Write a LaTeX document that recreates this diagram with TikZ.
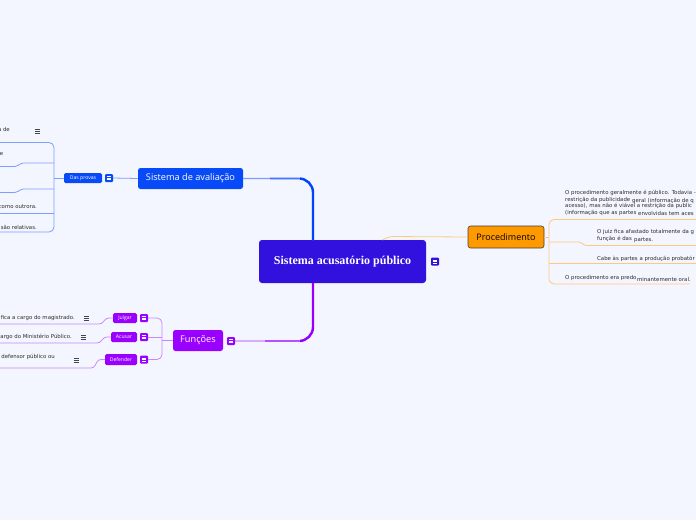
\documentclass[tikz,border=0pt]{standalone}
\usepackage{fontspec}
\setmainfont{Liberation Serif}
\newfontfamily\smallf{DejaVu Sans}
\newfontfamily\nodef{Open Sans}
\usetikzlibrary{calc}
\definecolor{bg}{RGB}{243,246,254}
\definecolor{cen}{RGB}{50,16,221}
\definecolor{bluenode}{RGB}{8,74,248}
\definecolor{bluedark}{RGB}{0,68,255}
\definecolor{bluemid}{RGB}{70,120,255}
\definecolor{bluelight}{RGB}{125,158,255}
\definecolor{purnode}{RGB}{153,0,255}
\definecolor{purdark}{RGB}{150,0,250}
\definecolor{purmid}{RGB}{180,80,255}
\definecolor{purlight}{RGB}{200,135,255}
\definecolor{ornode}{RGB}{255,153,0}
\definecolor{orline}{RGB}{255,200,130}
\definecolor{txtc}{RGB}{45,45,45}
\definecolor{menuc}{RGB}{70,70,70}
\tikzset{
  central/.style={rectangle, rounded corners=3, fill=cen, text=white, minimum width=167, minimum height=43, inner sep=0, font=\bfseries\fontsize{12}{14}\selectfont},
  topic/.style={rectangle, rounded corners=2.5, inner sep=0, text=white, font=\nodef\fontsize{9.2}{11}\selectfont},
  subt/.style={rectangle, rounded corners=1.5, inner sep=0, text=white, font=\nodef\fontsize{5.1}{6}\selectfont},
  txt/.style={inner sep=0, text=txtc, font=\smallf\fontsize{5.4}{6.4}\selectfont},
  noteicon/.style={rectangle, rounded corners=1, minimum size=8, inner sep=0,
    path picture={\foreach \dy in {-1.7,0,1.7} \draw[white, line width=0.6] ($(path picture bounding box.center)+(-2.3,\dy)$) -- ++(4.6,0);}},
  menuicon/.style={minimum width=6, minimum height=5, inner sep=0,
    path picture={\foreach \dy in {-1.8,0,1.8} \draw[menuc, line width=0.6] ($(path picture bounding box.center)+(-2.5,\dy)$) -- ++(5,0);}},
  bl/.style={draw=bluelight, line width=0.8},
  pl/.style={draw=purlight, line width=0.8},
  ol/.style={draw=orline, line width=0.8},
}
\begin{document}
\begin{tikzpicture}[x=1pt,y=-1pt]
\useasboundingbox (0,0) rectangle (696,520);
\fill[bg] (0,0) rectangle (696,520);
\clip (0,0) rectangle (696,520);

% ---------- nodes ----------
\node[central] (c) at (342.5,261.5) {Sistema acusatório público};
\node[noteicon, fill=cen] (ci) at (435,261.5) {};

\node[topic, fill=bluenode, minimum width=105, minimum height=21] (sa) at (190.5,178.5) {Sistema de avaliação};
\node[subt, fill=bluenode, minimum width=38, minimum height=10] (dp) at (83,178) {Das provas};
\node[noteicon, fill=bluenode] (dpi) at (109,178) {};

\node[topic, fill=purnode, minimum width=50, minimum height=21] (fu) at (198,340.5) {Funções};
\node[noteicon, fill=purnode] (fui) at (231,341) {};
\node[subt, fill=purnode, minimum width=24, minimum height=10] (ju) at (125,318) {Julgar};
\node[noteicon, fill=purnode] (jui) at (144,318) {};
\node[subt, fill=purnode, minimum width=26, minimum height=10] (ac) at (124,337) {Acusar};
\node[noteicon, fill=purnode] (aci) at (144,337) {};
\node[subt, fill=purnode, minimum width=32, minimum height=11] (de) at (121,359.5) {Defender};
\node[noteicon, fill=purnode] (dei) at (144,359.5) {};

\node[rectangle, rounded corners=2.5, fill=ornode, draw=black!75, line width=0.6, minimum width=76, minimum height=22, inner sep=0, font=\nodef\fontsize{9}{11}\selectfont] (pr) at (506,237) {Procedimento};

% ---------- left texts (Das provas) ----------
\node[txt, anchor=east] (t1) at (10,129) {a de};
\node[menuicon] (m1) at (37,131.5) {};
\node[txt, anchor=east] (t2) at (3.5,154.5) {e};
\node[txt, anchor=east] (t4) at (37,207) {como outrora.};
\node[txt, anchor=east] (t5) at (37,227) {são relativas.};

% ---------- left texts (Funções) ----------
\node[txt, anchor=east] (f1) at (75,318) {fica a cargo do magistrado.};
\node[menuicon] (m2) at (86,318) {};
\node[txt, anchor=east] (f2) at (72,337) {argo do Ministério Público.};
\node[menuicon] (m3) at (83,337) {};
\node[txt, anchor=east] (f3) at (55,357) {defensor público ou};
\node[menuicon] (m4) at (76,360) {};

% ---------- right texts (Procedimento) ----------
\node[txt, anchor=west] (p1a) at (565,193) {O procedimento geralmente é público. Todavia -};
\node[txt, anchor=west] (p1b) at (565,199.5) {restrição da publicidade};
\node[txt, anchor=west] (p1b2) at (632,200.5) {geral (informação de q};
\node[txt, anchor=west] (p1c) at (565,206) {acesso), mas não é viável a restrição da public};
\node[txt, anchor=west] (p1d) at (565,212.5) {(informação que as partes};
\node[txt, anchor=west] (p1d2) at (638,213.5) {envolvidas tem aces};
\node[txt, anchor=west] (p2a) at (597,232) {O juiz fica afastado totalmente da g};
\node[txt, anchor=west] (p2b) at (597,239) {função é das};
\node[txt, anchor=west] (p2b2) at (634,240) {partes.};
\node[txt, anchor=west] (p3) at (597,258.5) {Cabe às partes a produção probatór};
\node[txt, anchor=west] (p4) at (565,278) {O procedimento era predo};
\node[txt, anchor=west] (p4b) at (637,279) {minantemente oral.};

% ---------- coordinates ----------
\coordinate (cb) at (313,240);
\coordinate (cp) at (313,283);
\coordinate (bx) at (54,178);
\coordinate (fx) at (162,340.5);
\coordinate (ox) at (549,237);

% ---------- main connectors ----------
\draw[draw=bluelight, line width=1.1, rounded corners=14] (cb) |- (sa.east);
\begin{scope}
  \clip (270,150) rectangle (330,245);
  \draw[draw=bluemid, line width=1.6, rounded corners=14] (cb) |- (sa.east);
\end{scope}
\begin{scope}
  \clip (300,150) rectangle (330,245);
  \draw[draw=bluedark, line width=2.4, rounded corners=14] (cb) |- (sa.east);
\end{scope}

\draw[draw=purlight, line width=1.1, rounded corners=14] (cp) |- (fui.east);
\begin{scope}
  \clip (265,280) rectangle (330,360);
  \draw[draw=purmid, line width=1.6, rounded corners=14] (cp) |- (fui.east);
\end{scope}
\begin{scope}
  \clip (300,280) rectangle (330,360);
  \draw[draw=purdark, line width=2.4, rounded corners=14] (cp) |- (fui.east);
\end{scope}

\draw[ol, rounded corners=3] (382,240) -- (390,236.5) -- (pr.west);

% ---------- Das provas ----------
\draw[bl] (sa.west) -- (dpi.east);
\draw[bl] (dp.west) -- (bx);
\draw[bl, rounded corners=5] (0,142.5) -- (54,142.5) -- (54,232) -- (0,232);
\draw[bl, rounded corners=2] (54,163) -- (21,163) -- (17,166.5) -- (0,166.5);
\draw[bl, rounded corners=2] (54,189) -- (21,189) -- (17,192.5) -- (0,192.5);
\draw[bl] (54,213) -- (0,213);

% ---------- Funções ----------
\draw[pl] (fu.west) -- (fx);
\draw[pl, rounded corners=5] (jui.east) -- (162,318) -- (162,359.5) -- (dei.east);
\draw[pl] (aci.east) -- (162,337);
\draw[pl, rounded corners=3] (ju.west) -- (106,318) -- (102,324) -- (0,324);
\draw[pl, rounded corners=3] (ac.west) -- (104,337) -- (100,343) -- (0,343);
\draw[pl, rounded corners=3] (de.west) -- (98,359.5) -- (94,368) -- (0,368);

% ---------- Procedimento ----------
\draw[ol] (pr.east) -- (ox);
\draw[ol, rounded corners=5] (696,219.5) -- (549,219.5) -- (549,284) -- (690,284);
\draw[ol, rounded corners=2] (549,242) -- (581,242) -- (584,245.5) -- (696,245.5);
\draw[ol] (549,263.5) -- (696,263.5);
\end{tikzpicture}
\end{document}
